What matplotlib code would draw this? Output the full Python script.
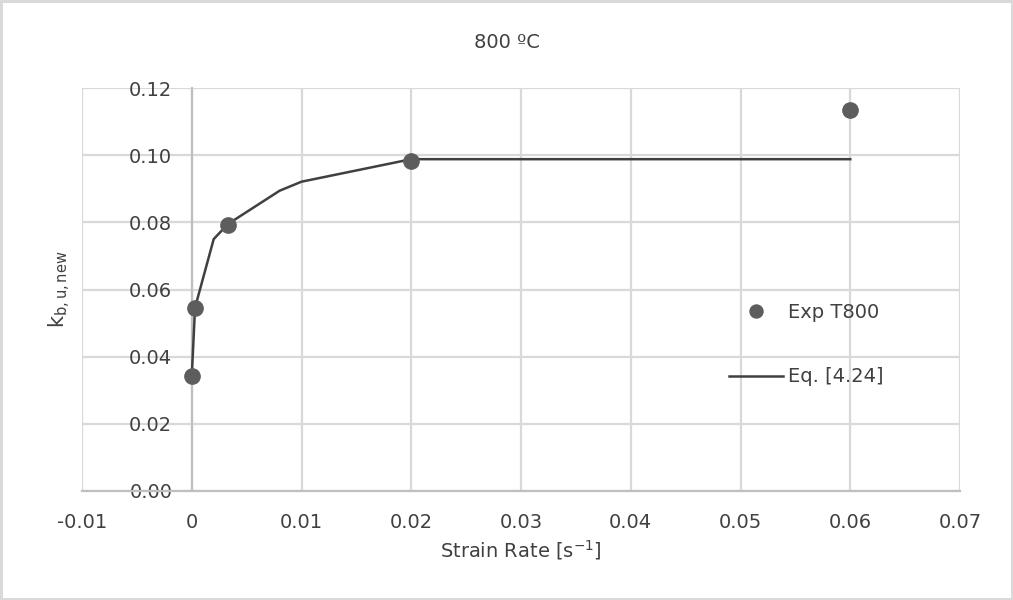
import numpy as np
import matplotlib.pyplot as plt

# experimental points at 800 C
exp_rate = [0.00003, 0.0003, 0.0033, 0.02, 0.06]
exp_k = [0.0342, 0.0546, 0.0792, 0.0984, 0.1134]

# Eq. [4.24] curve
eq_rate = [0.0, 0.0003, 0.002, 0.0033, 0.008, 0.01, 0.02, 0.06]
eq_k = [0.034, 0.0546, 0.075, 0.0795, 0.0894, 0.0921, 0.0988, 0.0988]

xticks = [-0.01, 0, 0.01, 0.02, 0.03, 0.04, 0.05, 0.06, 0.07]
xticklabels = ["-0.01", "0", "0.01", "0.02", "0.03", "0.04", "0.05", "0.06", "0.07"]
yticks = [0.00, 0.02, 0.04, 0.06, 0.08, 0.10, 0.12]

plt.rcParams['font.family'] = ['DejaVu Sans']
txt = '#404040'
fs = 14

fig = plt.figure(figsize=(10.13, 6.0), dpi=100)
fig.patch.set_edgecolor('#d9d9d9')
fig.patch.set_linewidth(2.5)
# plot area in pixels: left 82, right 960, top 88, bottom 491
ax = fig.add_axes([82/1013, 109/600, 878/1013, 403/600])

ax.plot(eq_rate, eq_k, color='#404040', lw=1.8, label='Eq. [4.24]', zorder=3)
ax.plot(exp_rate, exp_k, 'o', color='#5d5d5d', ms=11, label='Exp T800', zorder=4)

ax.set_xlim(-0.01, 0.07)
ax.set_ylim(0, 0.12)
ax.set_xticks(xticks)
ax.set_xticklabels(xticklabels)
ax.set_yticks(yticks)
ax.set_yticklabels(["%.2f" % v for v in yticks])
ax.grid(True, color='#d9d9d9', lw=1.6)
ax.set_axisbelow(True)

# axes cross at zero, like the spreadsheet chart
for s in ['top', 'right']:
    ax.spines[s].set_visible(False)
ax.spines['left'].set_position(('data', 0))
ax.spines['bottom'].set_position(('data', 0))
for s in ['left', 'bottom']:
    ax.spines[s].set_color('#bfbfbf')
    ax.spines[s].set_linewidth(1.6)
ax.tick_params(axis='both', length=0, labelsize=fs, labelcolor=txt)
ax.tick_params(axis='y', pad=14)
ax.tick_params(axis='x', pad=16)
for lab in ax.get_yticklabels():
    lab.set_zorder(5)

ax.set_xlabel('Strain Rate [s$^{\\mathregular{-1}}$]', fontsize=fs, color=txt, labelpad=4)
ax.set_ylabel('k$_{\\mathregular{b,u,new}}$', fontsize=15, color=txt)
ax.yaxis.set_label_coords(-0.01, 0.5)
fig.text(0.5, 1 - 42/600, '800 ºC', ha='center', va='center', fontsize=fs, color=txt)

h, l = ax.get_legend_handles_labels()
leg = ax.legend(h[::-1], l[::-1], loc='center left',
                bbox_to_anchor=(729/1013, 1 - 344.5/600), bbox_transform=fig.transFigure,
                frameon=False, fontsize=fs, labelspacing=2.35, handlelength=2.8,
                handletextpad=0.25, borderpad=0, borderaxespad=0, markerscale=0.85)
for t in leg.get_texts():
    t.set_color(txt)

fig.savefig('out.png', dpi=100)
